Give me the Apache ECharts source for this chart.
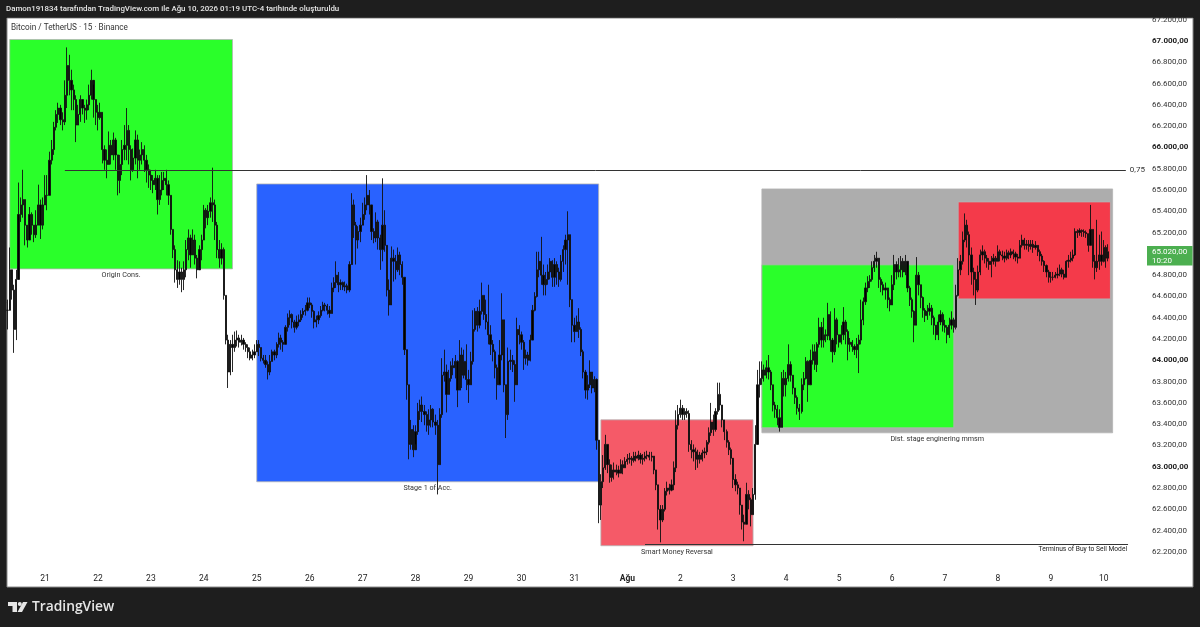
<!DOCTYPE html>
<html>
<head>
<meta charset="utf-8">
<title>BTCUSDT 15</title>
<script src="https://cdn.jsdelivr.net/npm/echarts@6/dist/echarts.min.js"></script>
<style>
  html, body { margin: 0; padding: 0; background: #1e1e1e; }
  #chart { width: 1200px; height: 627px; }
</style>
</head>
<body>
<div id="chart"></div>
<script>
// each row: close, low, high (open is the previous close)
const jul20 = [[64470,64290,64570],[64850,64570,65060],[64660,64570,64760],[64290,64070,64710],[64760,64190,64850],[65370,64760,65670],[65460,65300,65530],[65510,65340,65790],[65270,65080,65510],[65130,65060,65270],[65370,65130,65440],[65270,65180,65390],[65180,65110,65270],[65270,65150,65410],[65460,65270,65650],[65270,65140,65510],[65460,65230,65530]];
const jul21 = [[65550,65460,65740],[65550,65410,65740],[65880,65550,65960],[65980,65840,66070],[66190,65930,66240],[66310,66160,66350],[66370,66230,66420],[66260,66210,66400],[66240,66160,66330],[66490,66210,66630],[66770,66370,66940],[66630,66490,66870],[66540,66350,66730],[66450,66350,66590],[66210,66050,66490],[66310,66210,66400],[66450,66240,66490],[66370,66310,66450],[66350,66230,66400],[66400,66260,66450],[66490,66350,66590],[66630,66450,66730],[66450,66280,66590],[66330,66210,66450]];
const jul22 = [[66280,66160,66400],[66330,66260,66420],[65980,65850,66330],[65880,65790,66020],[65840,65710,65980],[66020,65840,66150],[65930,65840,66070],[66070,65880,66140],[65930,65790,66090],[65690,65550,65930],[65840,65570,65930],[65980,65740,66070],[66020,65880,66210],[66160,65880,66370],[65980,65840,66210],[65790,65690,66020],[65900,65770,65990],[66070,65840,66160],[65880,65710,66120],[65930,65790,65980],[65980,65840,66050],[65880,65770,66020],[65790,65670,65930],[65740,65620,65840]];
const jul23 = [[65690,65600,65790],[65650,65570,65740],[65710,65600,65790],[65510,65370,65740],[65600,65460,65740],[65690,65550,65770],[65710,65600,65770],[65650,65550,65790],[65550,65460,65690],[65230,65180,65550],[65040,64960,65230],[64850,64730,65080],[64760,64680,64940],[64830,64710,64930],[64760,64640,64870],[64850,64660,64930],[65040,64780,65130],[65150,64940,65230],[64990,64870,65180],[65130,64990,65230],[64960,64900,65180],[64850,64770,64990],[65040,64870,65080],[65130,64940,65180]];
const jul24 = [[65410,65240,65460],[65340,65240,65430],[65400,65270,65460],[65480,65340,65530],[65460,65300,65810],[65270,65130,65510],[65040,64960,65300],[64960,64870,65130],[65040,64900,65100],[64610,64570,65060],[64190,64150,64610],[63890,63740,64240],[64150,63860,64190],[64120,63890,64240],[64190,64080,64270],[64210,64130,64280],[64170,64120,64240],[64190,64140,64240],[64150,64100,64210],[64120,64080,64170],[64080,64020,64150],[64020,64000,64120],[64050,64000,64100],[64080,64020,64150]];
const jul25 = [[64150,64080,64190],[64120,64040,64190],[64020,63990,64120],[64000,63970,64050],[63960,63930,64050],[63890,63820,63990],[63990,63860,64050],[64080,63990,64100],[64050,64000,64100],[64150,64020,64170],[64210,64120,64260],[64170,64100,64240],[64150,64080,64190],[64310,64150,64330],[64400,64270,64440],[64430,64330,64470],[64360,64300,64440],[64310,64260,64380],[64360,64290,64420],[64380,64320,64430],[64430,64360,64470],[64460,64400,64490],[64470,64420,64520],[64540,64460,64590]];
const jul26 = [[64520,64490,64590],[64460,64400,64540],[64360,64300,64470],[64380,64310,64420],[64420,64340,64460],[64470,64400,64510],[64520,64460,64550],[64510,64460,64540],[64470,64430,64530],[64440,64400,64510],[64680,64440,64730],[64730,64640,64780],[64800,64680,64930],[64710,64640,64830],[64730,64660,64760],[64690,64660,64740],[64700,64650,64740],[64660,64630,64720],[64900,64640,64930],[65460,64900,65570],[65270,65150,65510],[65130,64900,65300],[65210,65050,65260],[65270,65110,65340]];
const jul27 = [[65370,65270,65480],[65460,65320,65530],[65550,65410,65740],[65460,65370,65600],[65210,65130,65460],[65150,65100,65240],[65300,65110,65390],[65150,65040,65320],[65040,64850,65180],[65270,64930,65710],[65080,65020,65410],[64660,64600,65080],[64520,64420,64760],[64960,64520,65070],[64930,64740,65040],[64850,64760,64990],[64990,64830,65060],[64900,64800,65020],[64780,64710,64930],[64100,64050,64780],[63770,63630,64100],[63210,63070,63770],[63350,63160,63440],[63160,63090,63390]];
const jul28 = [[63330,63210,63390],[63520,63300,63600],[63580,63440,63630],[63520,63420,63660],[63490,63390,63580],[63390,63330,63520],[63440,63300,63540],[63540,63370,63580],[63420,63370,63550],[63390,63300,63490],[63020,62740,63440],[63490,63020,63550],[63860,63460,64020],[63890,63800,64100],[63680,63510,63960],[63830,63680,63910],[63950,63800,63990],[63930,63860,64020],[63990,63830,64050],[63720,63560,64000],[64050,63720,64190],[63860,63740,64120],[63990,63830,64100],[63820,63720,64150]];
const jul29 = [[63770,63600,63910],[63990,63770,64080],[64290,63960,64470],[64460,64270,64490],[64330,64270,64500],[64460,64300,64570],[64610,64430,64730],[64430,64380,64610],[64360,64290,64570],[64240,64150,64710],[64150,64050,64330],[64080,63990,64190],[63930,63830,64100],[63770,63630,63960],[64050,63770,64190],[64380,64000,64630],[63770,63700,64380],[63490,63270,63770],[63990,63440,64120],[64000,63910,64100],[63960,63890,64050],[63770,63610,64000],[64290,63770,64400],[64240,64150,64330]];
const jul30 = [[64170,64100,64270],[64020,63910,64190],[64050,63960,64100],[64000,63950,64080],[64190,63990,64240],[64470,64190,64520],[64600,64460,64640],[64850,64590,65020],[64930,64780,65020],[64800,64710,65160],[64710,64610,64900],[64760,64610,64830],[64830,64710,64900],[64930,64760,64960],[64780,64690,64940],[64900,64690,64960],[64830,64710,64930],[64760,64690,64870],[64930,64740,64990],[65040,64830,65080],[65130,64900,65180],[65180,64710,65400],[64570,64500,65180],[64330,64170,64570]];
const jul31 = [[64270,64170,64400],[64360,64270,64420],[64290,64210,64490],[64080,64040,64310],[63890,63830,64100],[63720,63640,63910],[63770,63630,63860],[63890,63740,64000],[63740,63690,63890],[63820,63700,63850],[63250,63160,63830],[62640,62470,63250],[62860,62500,62930],[62990,62800,63110],[63210,62970,63300],[63020,62940,63210],[62900,62850,63070],[62970,62860,63020],[62950,62880,63040],[62970,62920,63020],[62940,62900,63010],[63020,62950,63070],[62990,62930,63060],[63050,62990,63090]];
const aug01 = [[63070,63020,63120],[63080,63030,63130],[63060,63010,63100],[63100,63040,63140],[63080,63050,63140],[63110,63060,63150],[63070,63030,63130],[63080,63020,63120],[63100,63050,63140],[63110,63070,63150],[63090,63060,63140],[63100,63050,63140],[62970,62930,63100],[62830,62780,62970],[62600,62410,62830],[62500,62290,62640],[62600,62480,62640],[62770,62580,62800],[62800,62730,62860],[62780,62740,62840],[62830,62770,62880],[62990,62780,63050],[63390,62950,63530],[63490,63350,63580]];
const aug02 = [[63550,63460,63630],[63490,63440,63580],[63520,63440,63550],[63500,63460,63550],[63210,63140,63530],[63160,63080,63250],[63140,63050,63210],[63070,62970,63180],[63110,62990,63160],[63070,63030,63140],[63130,63050,63160],[63140,63080,63180],[63230,63110,63250],[63320,63210,63370],[63420,63290,63600],[63350,63290,63490],[63520,63330,63550],[63680,63490,63790],[63580,63530,63790],[63440,63370,63580],[63330,63250,63440],[63230,63180,63350],[63160,63110,63250],[63080,63020,63180]];
const aug03 = [[62880,62800,63020],[62830,62770,62930],[62800,62740,62860],[62640,62550,62800],[62480,62410,62640],[62460,62300,62550],[62740,62460,62850],[62690,62600,62780],[62550,62440,62710],[62740,62550,62800],[63210,62690,63390],[63770,63210,63910],[63830,63650,63990],[63910,63770,63990],[63860,63800,63960],[63930,63830,64000],[63890,63820,64050],[63770,63720,63910],[63580,63520,63770],[63540,63460,63610],[63460,63390,63580],[63370,63330,63540],[63830,63370,63890],[63770,63660,63910]];
const aug04 = [[63830,63660,63890],[63960,63800,64150],[63860,63800,63990],[63740,63680,63860],[63650,63590,63740],[63550,63490,63670],[63520,63440,63590],[63770,63500,63830],[63830,63720,63890],[63990,63820,64030],[63770,63610,64000],[64000,63770,64100],[64080,63960,64150],[63960,63910,64150],[64150,63890,64170],[64310,64120,64400],[64190,64120,64360],[64240,64120,64400],[64230,64170,64290],[64430,64190,64540],[64190,64080,64460],[64080,63980,64210],[64380,64050,64490],[64240,64150,64400]];
const aug05 = [[64170,64120,64240],[64240,64150,64330],[64360,64190,64500],[64270,64150,64380],[64150,64000,64290],[64170,64080,64210],[64130,64080,64190],[64100,64050,64150],[64150,64020,64210],[64190,63880,64240],[64380,64150,64570],[64550,64330,64590],[64680,64520,64730],[64740,64640,64790],[64760,64680,64800],[64870,64740,64930],[64930,64830,64990],[64960,64870,65020],[64760,64680,64960],[64710,64640,64780],[64660,64610,64740],[64680,64570,64730],[64570,64490,64680],[64520,64460,64590]];
const aug06 = [[64710,64570,64800],[64900,64660,64990],[64830,64760,64930],[64850,64780,64960],[64930,64780,64980],[64830,64780,64960],[64930,64800,64990],[64680,64640,64930],[64570,64510,64700],[64460,64400,64590],[64330,64170,64470],[64800,64330,64970],[64710,64610,64830],[64590,64490,64710],[64470,64400,64600],[64420,64360,64490],[64460,64380,64520],[64490,64420,64540],[64400,64330,64520],[64330,64240,64420],[64240,64190,64330],[64360,64190,64430],[64430,64330,64470],[64330,64270,64450]];
const aug07 = [[64310,64260,64380],[64240,64160,64330],[64330,64210,64400],[64380,64290,64460],[64310,64260,64400],[64610,64290,64710],[64850,64600,64960],[64930,64800,64990],[65130,64900,65210],[65270,65110,65380],[65180,65060,65320],[64990,64800,65210],[64830,64710,65060],[64760,64610,64870],[64660,64520,64830],[64830,64640,64890],[64990,64800,65040],[65020,64940,65080],[64960,64910,65040],[64930,64870,64990],[64900,64850,64960],[64930,64780,64980],[64960,64900,65000],[64930,64880,64980]];
const aug08 = [[65020,64930,65080],[64990,64930,65040],[64980,64940,65030],[64960,64920,65020],[65010,64940,65040],[64990,64950,65030],[65020,64960,65050],[65000,64950,65040],[64970,64930,65020],[64960,64910,65000],[65080,64960,65130],[65130,65060,65180],[65080,65040,65150],[65090,65040,65130],[65070,65020,65130],[65090,65040,65130],[65060,65010,65130],[65080,65040,65120],[65020,64980,65080],[64980,64930,65040],[64930,64890,65000],[64890,64830,64940],[64830,64780,64900],[64780,64730,64850]];
const aug09 = [[64780,64730,64830],[64780,64750,64830],[64800,64770,64830],[64810,64770,64870],[64850,64790,64900],[64810,64780,64870],[64780,64760,64850],[64930,64780,64940],[64940,64870,64990],[64960,64920,65020],[64990,64930,65040],[65210,64980,65240],[65200,65150,65230],[65220,65170,65240],[65210,65160,65230],[65200,65160,65230],[65190,65150,65220],[65080,65020,65190],[65230,65080,65460],[64930,64870,65230],[64870,64760,64990],[64930,64830,65320],[64990,64850,65180],[64930,64890,65210]];
const aug10 = [[65060,64920,65130],[64960,64870,65080],[65020,64930,65090]];

const dayRows = [jul21, jul22, jul23, jul24, jul25, jul26, jul27, jul28, jul29, jul30, jul31, aug01, aug02, aug03, aug04, aug05, aug06, aug07, aug08, aug09, aug10];
const dayLabels = ['21','22','23','24','25','26','27','28','29','30','31','Ağu','2','3','4','5','6','7','8','9','10'];

// boxes drawn on the chart, x is the hourly bar index
const zoneNames = ['Dist. stage enginering mmsm', '', '', 'Origin Cons.', 'Stage 1 of Acc.', 'Smart Money Reversal'];
const zoneStart = [342, 342, 431, 1, 113, 269];
const zoneEnd = [501, 429, 500, 102, 268, 338];
const zoneTop = [65610, 64897, 65488, 67014, 65657, 63441];
const zoneBottom = [63319, 63366, 64577, 64859, 62859, 62258];
const zoneColors = ['#adadad', '#2aff2a', '#f43a4a', '#2aff2a', '#2962ff', '#f55a68'];

const fibLevel = 65786, fibFrom = 26, fibTo = 507;
const terminusLevel = 62268, terminusFrom = 289, terminusTo = 508;

const lastPrice = '65.020,00', countdown = '10:20';

const leadBars = jul20.length;
const totalBars = 515;

let prev = jul20[0][0];
const candles = [];
jul20.concat(...dayRows).forEach(([c, l, h]) => {
  candles.push([prev, c, l, h]);
  prev = c;
});

// hourly categories, only the midnight ones carry a label
const categories = [];
for (let i = 0; i < totalBars; i++) {
  const k = i - leadBars;
  categories.push(k >= 0 && k % 24 === 0 && dayLabels[k / 24] ? dayLabels[k / 24] : '');
}

function priceLabel(v) {
  if (v === 62000) return '';
  const s = String(v);
  const txt = s.slice(0, 2) + '.' + s.slice(2) + ',00';
  return v % 1000 === 0 ? '{b|' + txt + '}' : txt;
}

const font = 'Roboto';
const chart = echarts.init(document.getElementById('chart'));

chart.setOption({
  animation: false,
  backgroundColor: '#1e1e1e',
  grid: { left: 6.4, width: 1136, top: 19.7, height: 553.5 },
  xAxis: {
    type: 'category',
    data: categories,
    boundaryGap: true,
    axisLine: { show: false },
    axisTick: { show: false },
    splitLine: { show: false },
    axisLabel: {
      interval: (i, v) => v !== '',
      margin: 1,
      padding: [0, 0, 0, 0],
      lineHeight: 10,
      fontFamily: font,
      fontSize: 8.5,
      color: '#222',
      hideOverlap: false,
      formatter: v => v === 'Ağu' ? '{b|Ağu}' : v,
      rich: { b: { fontFamily: font, fontSize: 8.5, fontWeight: 'bold', color: '#222' } }
    }
  },
  yAxis: {
    type: 'value',
    position: 'right',
    min: 62000,
    max: 67200,
    interval: 200,
    axisLine: { show: false },
    axisTick: { show: false },
    splitLine: { show: false },
    axisLabel: {
      margin: 9.5,
      fontFamily: font,
      fontSize: 8,
      color: '#333',
      formatter: priceLabel,
      rich: { b: { fontFamily: font, fontSize: 8, fontWeight: 'bold', color: '#222' } }
    }
  },
  graphic: [
    // white pane under everything
    { type: 'rect', z: -10, shape: { x: 7, y: 18, width: 1186, height: 569 }, style: { fill: '#fff', stroke: '#8a8a8a', lineWidth: 1 } },
    // dark strip on top clips the first tick like the screenshot
    { type: 'rect', z: 50, shape: { x: 0, y: 0, width: 1200, height: 17.5 }, style: { fill: '#1e1e1e' } },
    { type: 'text', z: 51, x: 6, y: 9, style: { text: 'Damon191834 tarafından TradingView.com ile Ağu 10, 2026 01:19 UTC-4 tarihinde oluşturuldu', font: '500 7.9px Roboto', fill: '#e6e6e6', verticalAlign: 'middle' } },
    { type: 'text', z: 51, x: 11, y: 27.5, style: { text: 'Bitcoin / TetherUS · 15 · Binance', font: '8.2px Roboto', fill: '#333', verticalAlign: 'middle' } },
    // last price tag
    { type: 'rect', z: 50, shape: { x: 1147, y: 246, width: 45.5, height: 19.5 }, style: { fill: '#4caf50' } },
    { type: 'text', z: 51, x: 1152, y: 251.5, style: { text: lastPrice, font: '8px Roboto', fill: '#fff', verticalAlign: 'middle' } },
    { type: 'text', z: 51, x: 1152, y: 260.5, style: { text: countdown, font: '8px Roboto', fill: '#fff', verticalAlign: 'middle' } },
    // TradingView logo
    { type: 'polygon', z: 51, shape: { points: [[8, 602], [17, 602], [17, 612], [12.5, 612], [12.5, 606], [8, 606]] }, style: { fill: '#e6e6e6' } },
    { type: 'circle', z: 51, shape: { cx: 19.8, cy: 604, r: 2 }, style: { fill: '#e6e6e6' } },
    { type: 'polygon', z: 51, shape: { points: [[23, 602], [27.5, 602], [22, 612], [17.5, 612]] }, style: { fill: '#e6e6e6' } },
    { type: 'text', z: 51, x: 32, y: 607.5, style: { text: 'TradingView', font: '600 13.8px "Open Sans"', fill: '#e6e6e6', verticalAlign: 'middle' } }
  ],
  series: [{
    type: 'candlestick',
    data: candles,
    barWidth: 1.7,
    clip: false,
    silent: true,
    itemStyle: { color: '#000', color0: '#000', borderColor: '#111', borderColor0: '#111', borderWidth: 0.9 },
    markArea: {
      silent: true,
      z: 1,
      label: { position: 'bottom', distance: 2, fontFamily: font, fontSize: 7.2, color: '#333' },
      data: zoneNames.map((name, i) => [
        { name, xAxis: zoneStart[i], yAxis: zoneTop[i], itemStyle: { color: zoneColors[i], borderColor: 'rgba(180,180,180,0.8)', borderWidth: 1 } },
        { xAxis: zoneEnd[i], yAxis: zoneBottom[i] }
      ])
    },
    markLine: {
      silent: true,
      symbol: 'none',
      precision: 0,
      lineStyle: { color: '#333', width: 1, type: 'solid' },
      data: [
        [
          { xAxis: fibFrom, yAxis: fibLevel, label: { show: true, position: 'end', distance: 4, formatter: '0,75', fontFamily: font, fontSize: 8, color: '#333' } },
          { xAxis: fibTo, yAxis: fibLevel }
        ],
        [
          { xAxis: terminusFrom, yAxis: terminusLevel, label: { show: true, position: 'insideEndBottom', distance: 1, formatter: 'Terminus of Buy to Sell Model', fontFamily: font, fontSize: 6.7, color: '#222' } },
          { xAxis: terminusTo, yAxis: terminusLevel }
        ]
      ]
    }
  }]
});
</script>
</body>
</html>
